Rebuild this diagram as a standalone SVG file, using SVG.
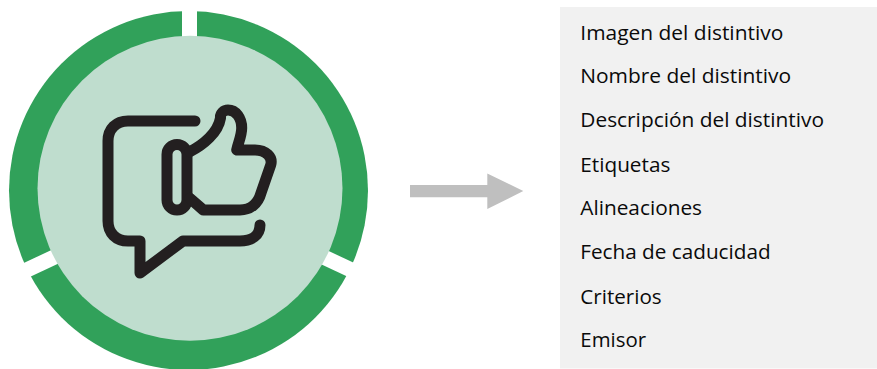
<svg xmlns="http://www.w3.org/2000/svg" width="877" height="369" viewBox="0 0 877 369">
<style>
.gap{fill:#fff}
.ic{fill:none;stroke:#231F20;stroke-width:11;stroke-linecap:round;stroke-linejoin:round}
.t{font-family:"Open Sans","Noto Sans","Liberation Sans",sans-serif;font-size:19.5px;fill:#0a0a0a}
</style>
<rect width="877" height="369" fill="#fff"/>
<g id="badge">
<circle cx="188.5" cy="190.5" r="179.5" fill="#31A15A"/>
<polygon class="gap" points="182,5 197,5 197,45 182,45"/>
<polygon class="gap" points="12,268.500 60,246 66,260 18,282.500"/>
<polygon class="gap" points="366,268.500 318,246 312,260 360,282.500"/>
<circle cx="190" cy="188.300" r="152.500" fill="#BFDDCE"/>
<path class="ic" d="M195,121H128C116,121 108,129 108,141V221C108,233 116,241 128,241H140V273L183,241H240C252,241 260,235 260,225"/>
<rect class="ic" x="167" y="144.500" width="20" height="65.500" rx="10"/>
<path class="ic" d="M190,151.700C203,145 218,133 220.500,118C220,113 224,110 228,110C236,110 241.700,118 241.700,128C241.700,136 238,143 236.700,150H255C266,150 273,157 270.700,165L261,193C258,204 250,210 240,210H203.300L190,198.300"/>
</g>
<g id="connectors">
<polygon points="410,185 487.300,185 487.300,173.500 523.300,191 487.300,209 487.300,197.300 410,197.300" fill="#BFBFBF"/>
</g>
<g id="fields">
<rect x="560" y="7" width="317" height="361.500" fill="#F1F1F1"/>
<text class="t" x="580.300" y="40" textLength="203" lengthAdjust="spacingAndGlyphs">Imagen del distintivo</text>
<text class="t" x="580.300" y="83" textLength="210.700" lengthAdjust="spacingAndGlyphs">Nombre del distintivo</text>
<text class="t" x="580.300" y="126.500" textLength="243.700" lengthAdjust="spacingAndGlyphs">Descripción del distintivo</text>
<text class="t" x="580.300" y="171.500" textLength="90" lengthAdjust="spacingAndGlyphs">Etiquetas</text>
<text class="t" x="580.300" y="215" textLength="121.700" lengthAdjust="spacingAndGlyphs">Alineaciones</text>
<text class="t" x="580.300" y="258.500" textLength="190.300" lengthAdjust="spacingAndGlyphs">Fecha de caducidad</text>
<text class="t" x="580.300" y="303.500" textLength="81.300" lengthAdjust="spacingAndGlyphs">Criterios</text>
<text class="t" x="580.300" y="346.500" textLength="65.700" lengthAdjust="spacingAndGlyphs">Emisor</text>
</g>
</svg>
